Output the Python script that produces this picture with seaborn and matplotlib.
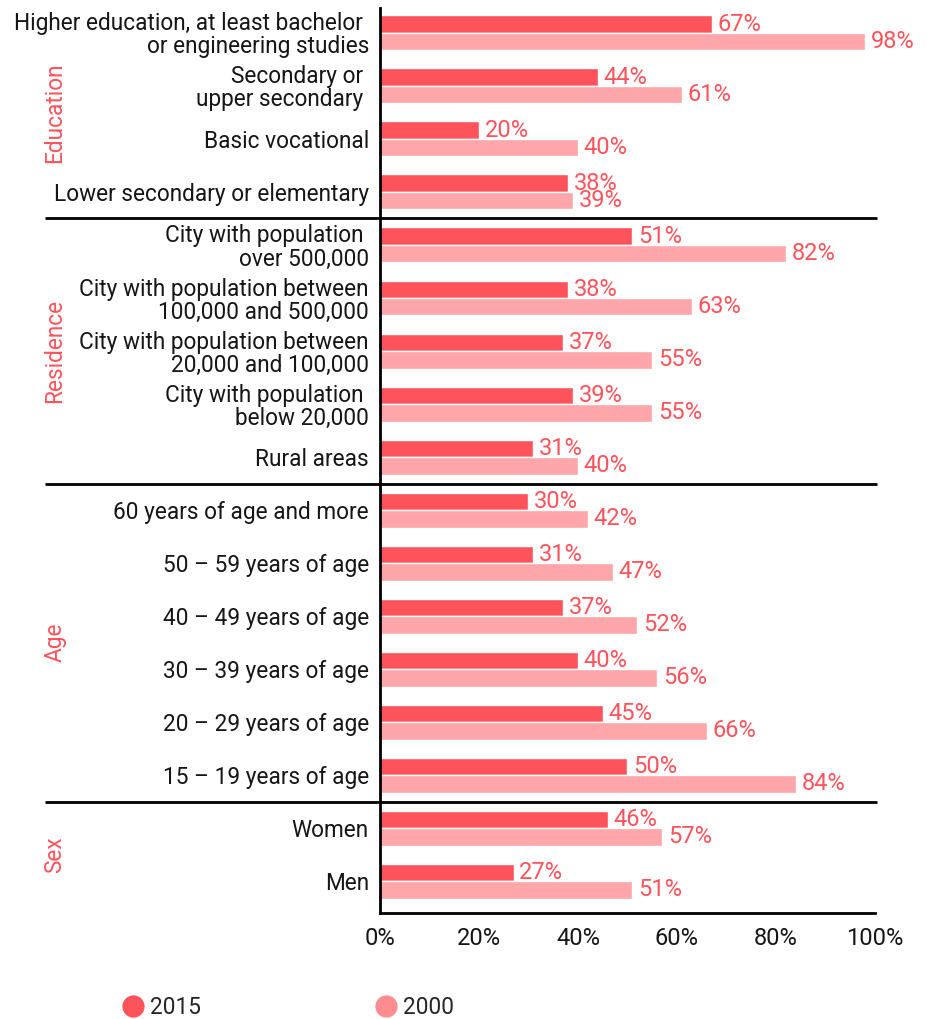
import matplotlib
matplotlib.use("Agg")
import matplotlib.pyplot as plt
from matplotlib.lines import Line2D
import seaborn as sns
import pandas as pd

# Category labels, grouped top to bottom
education = ["Higher education, at least bachelor \nor engineering studies",
             "Secondary or \nupper secondary ",
             "Basic vocational",
             "Lower secondary or elementary"]
residence = ["City with population \nover 500,000",
             "City with population between\n100,000 and 500,000",
             "City with population between\n20,000 and 100,000",
             "City with population \nbelow 20,000",
             "Rural areas"]
age = ["60 years of age and more",
       "50 – 59 years of age",
       "40 – 49 years of age",
       "30 – 39 years of age",
       "20 – 29 years of age",
       "15 – 19 years of age"]
sex = ["Women", "Men"]

groups = ["Education", "Residence", "Age", "Sex"]
group_members = [education, residence, age, sex]

# Shares in percent
values_2015 = [67, 44, 20, 38,
               51, 38, 37, 39, 31,
               30, 31, 37, 40, 45, 50,
               46, 27]
values_2000 = [98, 61, 40, 39,
               82, 63, 55, 55, 40,
               42, 47, 52, 56, 66, 84,
               57, 51]

years = ["2015", "2000"]
ticks = [0, 20, 40, 60, 80, 100]

categories = [c for g in group_members for c in g]
df = pd.DataFrame({
    "category": categories * 2,
    "year": ["2015"] * len(categories) + ["2000"] * len(categories),
    "value": values_2015 + values_2000,
})

RED = "#ff535b"
PINK = "#fea6a9"
PINK_DOT = "#fe8c91"
INK = "#161616"
LABEL_SIZE = 16.3
NUM_SIZE = 17

sns.set_theme(style="white")
plt.rcParams["font.family"] = ["Roboto", "DejaVu Sans"]

fig = plt.figure(figsize=(9.29, 10.19), dpi=100)
ax = fig.add_axes([380 / 929, 1 - 913 / 1019, 495 / 929, (913 - 8) / 1019])

sns.barplot(data=df, y="category", x="value", hue="year", order=categories,
            hue_order=years, palette=[RED, PINK], orient="h", width=0.66,
            saturation=1, legend=False, ax=ax)

ax.set_xlim(0, 100)
ax.set_ylim(16.6, -0.47)
ax.set_xlabel("")
ax.set_ylabel("")

for side in ["top", "right"]:
    ax.spines[side].set_visible(False)
for side in ["left", "bottom"]:
    ax.spines[side].set_color("black")
    ax.spines[side].set_linewidth(2)

ax.set_xticks(ticks)
ax.set_xticklabels([f"{t}%" for t in ticks], fontsize=NUM_SIZE, color=INK)
ax.tick_params(axis="x", direction="in", length=7, width=2, color="black", pad=10)
ax.tick_params(axis="y", length=0, pad=8, labelsize=LABEL_SIZE, labelcolor=INK)
for lbl in ax.get_yticklabels():
    lbl.set_horizontalalignment("right")
    lbl.set_multialignment("right")
    lbl.set_linespacing(1.0)

# Value labels at the end of each bar
for container in ax.containers:
    ax.bar_label(container, labels=[f"{v:.0f}%" for v in container.datavalues],
                 padding=4, color=RED, fontsize=NUM_SIZE, label_type="edge")

# Group separators and rotated group names
trans = ax.get_yaxis_transform()
start = 0
for gi, (name, members) in enumerate(zip(groups, group_members)):
    end = start + len(members)
    if gi > 0:
        ax.plot([-0.677, 1.004], [start - 0.5, start - 0.5], transform=trans,
                color="black", lw=2, clip_on=False, solid_capstyle="butt")
    ax.text(-0.657, (start + end - 1) / 2, name, transform=trans, rotation=90,
            ha="center", va="center", color=RED, fontsize=LABEL_SIZE)
    start = end

handles = [Line2D([], [], marker="o", ls="", markersize=16, color=c, markeredgewidth=0)
           for c in [RED, PINK_DOT]]
fig.legend(handles, years, loc="center left", bbox_to_anchor=(119 / 929, 1 - 1007 / 1019),
           ncol=2, frameon=False, fontsize=LABEL_SIZE, handletextpad=0.15, columnspacing=7.6,
           handlelength=1.2, borderaxespad=0, borderpad=0)

fig.savefig("out.png", dpi=100)
